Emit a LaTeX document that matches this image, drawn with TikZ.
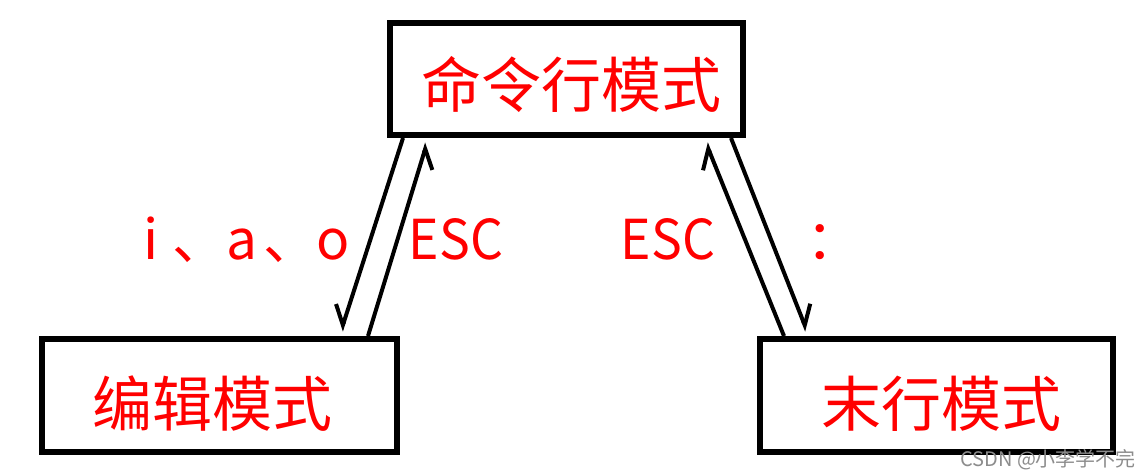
\documentclass[tikz,border=0pt]{standalone}
\usepackage{fontspec}
\setmainfont{Noto Sans CJK SC}
\usetikzlibrary{arrows.meta,calc}
\definecolor{txtred}{RGB}{255,0,0}
\definecolor{wmgray}{RGB}{140,140,140}
\tikzset{
  modebox/.style={draw=black, line width=6pt, inner sep=0pt, fill=white},
  cjklabel/.style={text=txtred, inner sep=0pt, anchor=base, font=\fontsize{60pt}{72pt}\selectfont},
  keylabel/.style={text=txtred, inner sep=0pt, anchor=base, font=\fontsize{55pt}{66pt}\selectfont},
  conn/.style={draw=black, line width=4pt},
  tipl/.style={-{Straight Barb[harpoon,swap,length=18pt,width=26pt]}},
  tipr/.style={-{Straight Barb[harpoon,length=18pt,width=26pt]}},
}
\begin{document}
\begin{tikzpicture}[x=1pt,y=-1pt]
\useasboundingbox[fill=white] (0,0) rectangle (1148,475);
% boxes
\node[modebox, minimum width=353pt, minimum height=112pt] (top) at (566.5,79) {};
\node[modebox, minimum width=355pt, minimum height=113pt] (left) at (219.5,395.5) {};
\node[modebox, minimum width=353pt, minimum height=113pt] (right) at (936.5,395.5) {};
% box texts
\node[cjklabel] (toptext) at (571,107) {命令行模式};
\node[cjklabel] (lefttext) at (212.5,426) {编辑模式};
\node[cjklabel] (righttext) at (941.5,426) {末行模式};
% connectors left pair
\draw[conn,tipl] ($(top.south west)+(16,0)$) -- ($(left.north east)+(-59,-5)$);
\draw[conn,tipl] ($(left.north east)+(-32,0)$) -- ($(top.south west)+(40,5)$);
% connectors right pair
\draw[conn,tipr] ($(right.north west)+(27,0)$) -- ($(top.south east)+(-40,5)$);
\draw[conn,tipr] ($(top.south east)+(-15,0)$) -- ($(right.north west)+(50,-5)$);
% key labels
\node[keylabel] (iao) at (242,259) {\makebox[30.5pt]{i}\makebox[60.5pt][l]{\hspace{6pt}、}\makebox[30.5pt]{a}\makebox[60.5pt][l]{\hspace{6pt}、}\makebox[30.5pt]{o}};
\node[keylabel, xscale=0.94] (esc1) at (456,259) {ESC};
\node[keylabel, xscale=0.94] (esc2) at (668,259) {ESC};
\node[keylabel] (colon) at (834,259) {：};
% watermark
\node[text=wmgray, inner sep=0pt, anchor=base west, font=\fontsize{20pt}{24pt}\selectfont] (wm) at (960,466) {CSDN @小李学不完};
\end{tikzpicture}
\end{document}
